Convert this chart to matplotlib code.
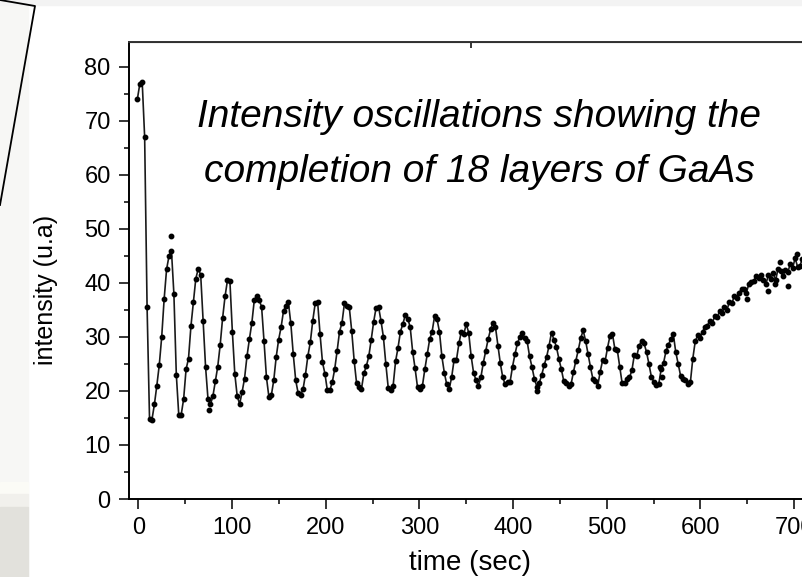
import numpy as np
import matplotlib.pyplot as plt
from matplotlib.lines import Line2D
from matplotlib.patches import Rectangle

plt.rcParams['font.family'] = ['Liberation Sans', 'DejaVu Sans']

# sampling of the RHEED trace (sec)
t_start = -1.0
t_step = 2.6

# intensity (u.a), one value per sample
intensity = [
    74, 76.8, 77.2, 67, 35.5, 14.9, 14.7,
    17.5, 21, 24.8, 30, 37, 42.5, 45, 46, 38, 23, 15.6, 15.6,
    18.5, 24, 26, 32, 36.5, 40.8, 42.6, 41.5, 33, 24.5, 18.5, 17.5,
    19, 21.8, 24.5, 28.5, 33.5, 37.5, 40.5, 40.3, 31, 23.2, 19, 17.6,
    19.8, 22.3, 26.4, 29.6, 32.6, 36.8, 37.6, 36.8, 35.6, 29.2, 22.5, 18.9, 19.2,
    22, 26.3, 29.5, 31.8, 34.8, 35.8, 36.4, 32.5, 26.8, 22, 19.6, 19.2,
    20.3, 23, 26.5, 29, 33, 36.2, 36.5, 30.5, 25.3, 23.2, 20.1, 20.1,
    21.6, 24, 27.4, 31, 32.6, 36.2, 35.8, 35.5, 31.1, 25.6, 21.4, 20.8, 20.4,
    23.3, 24.6, 26.4, 29.5, 32.8, 35.4, 35.6, 33, 30, 25, 20.5, 20.2,
    21, 25.5, 28, 31, 32.4, 34.1, 33.4, 31.8, 27.3, 24.2, 20.7, 20.4,
    20.9, 24, 26.8, 29.6, 31, 33.8, 33.3, 31, 26.4, 23.4, 21.2, 20.4,
    22.5, 25.7, 25.8, 28.8, 31, 30.5, 32.4, 30.8, 26.5, 23.4, 22, 21,
    22.5, 25.2, 27.4, 29.6, 31.4, 32.6, 31.8, 28.4, 25.1, 22.5, 21.2, 21.6,
    21.7, 24.5, 26.8, 28.8, 30, 30.8, 29.8, 29.2, 26.4, 24.4, 22.2, 20.8, 21.5,
    23, 24.8, 26.3, 28.4, 30.8, 29.5, 28.2, 26, 24.1, 21.9, 21.4, 21,
    21.2, 23.5, 25.6, 27.6, 29.8, 31.2, 29.3, 26.8, 24.4, 22.2, 21.8, 21,
    23.6, 25.7, 25.5, 28, 30.2, 30.6, 27.8, 27.6, 24.5, 21.4, 21.5, 22.3,
    22.5, 23.8, 26.7, 26.5, 28.4, 29.3, 28.8, 27.2, 25, 22.6, 21.7, 21.1, 21.2,
    24, 25.2, 27.4, 28.6, 29.6, 30.5, 27.2, 25, 22.8, 22.3, 22, 21.3, 21.6,
    26, 29.2, 30.3, 29.8, 31, 31.8, 32.1, 33, 32.6, 33.8, 33.6, 34.8, 34.4,
    35.6, 35, 36.4, 36.2, 37.5, 37.2, 38.2, 38.8, 38.9, 38.2, 39.8, 40.2,
    40.4, 41.2, 41, 41.5, 40.6, 39.8, 41.4, 40.8, 41.8, 40.5, 42.6, 42.2,
    41.2, 42.4, 42, 43.5, 42.8, 44.6, 43, 43.2, 44.5,
]
time = t_start + t_step * np.arange(len(intensity))

# stray points of the scan that sit off the line
stray_t = [34.5, 75.8, 425.9, 556.5, 558.5, 649.5, 672, 680, 684.8, 693.7, 702.6]
stray_i = [48.6, 16.5, 20.0, 24.4, 22.5, 37.0, 38.5, 39.8, 43.8, 39.5, 45.4]

xticks = [0, 100, 200, 300, 400, 500, 600, 700]
yticks = [0, 10, 20, 30, 40, 50, 60, 70, 80]

W, H = 803, 577
fig = plt.figure(figsize=(W / 100, H / 100), dpi=100)

# slide background bits around the chart
fig.patches.append(Rectangle((0, 0), 28 / W, 1, transform=fig.transFigure,
                             color='#f7f7f5', zorder=0))
fig.patches.append(Rectangle((0, 1 - 5 / H), 1, 5 / H, transform=fig.transFigure,
                             color='#f3f3f3', zorder=0))
fig.patches.append(Rectangle((0, 1 - 494 / H), 28 / W, 12 / H, transform=fig.transFigure,
                             color='#fbfbf6', zorder=0))
fig.patches.append(Rectangle((0, 1 - 507 / H), 28 / W, 13 / H, transform=fig.transFigure,
                             color='#f1f0ec', zorder=0))
fig.patches.append(Rectangle((0, 0), 28 / W, 1 - 507 / H, transform=fig.transFigure,
                             color='#e2e1dc', zorder=0))
fig.lines.append(Line2D([0, 35 / W, 0], [1, 1 - 6 / H, 1 - 205 / H],
                        transform=fig.transFigure, color='black', lw=1.3))

ax = fig.add_axes([129 / W, 1 - 499 / H, (W - 129) / W, (499 - 42) / H])
ax.patch.set_alpha(0)
ax.plot(time, intensity, color='#1a1a1a', lw=1.2, marker='o', ms=3.2,
        mfc='black', mec='black')
ax.plot(stray_t, stray_i, ls='none', marker='o', ms=3.2, color='black')

ax.set_xticks(xticks)
ax.set_yticks(yticks)
ax.set_xticks(np.array(xticks) + 50, minor=True)
ax.set_yticks(np.array(yticks[:-1]) + 5, minor=True)
ax.set_xlim(-9.9, 709.4)
ax.set_ylim(0, 84.6)
ax.tick_params(which='major', length=7.2, width=1.1, labelsize=17, pad=6)
ax.tick_params(which='minor', length=3.8, width=1.1)
ax.spines['right'].set_visible(False)
for s in ['left', 'bottom']:
    ax.spines[s].set_linewidth(1.4)
ax.spines['top'].set_linewidth(1.4)
ax.spines['top'].set_color('#333333')

top = ax.secondary_xaxis('top')
top.set_xticks([355])
top.tick_params(direction='in', length=4, width=1.1, labeltop=False)

fig.text(470 / W, 1 - 570 / H, 'time (sec)', ha='center', va='baseline', fontsize=20)
fig.text(46 / W, 1 - 290 / H, 'intensity (u.a)', ha='center', va='center',
         rotation=90, fontsize=18)

fig.text(479 / W, 1 - 127 / H, 'Intensity oscillations showing the',
         ha='center', va='baseline', fontsize=28, style='italic')
fig.text(479 / W, 1 - 182 / H, 'completion of 18 layers of GaAs',
         ha='center', va='baseline', fontsize=28, style='italic')

fig.savefig('out.png', dpi=100)
